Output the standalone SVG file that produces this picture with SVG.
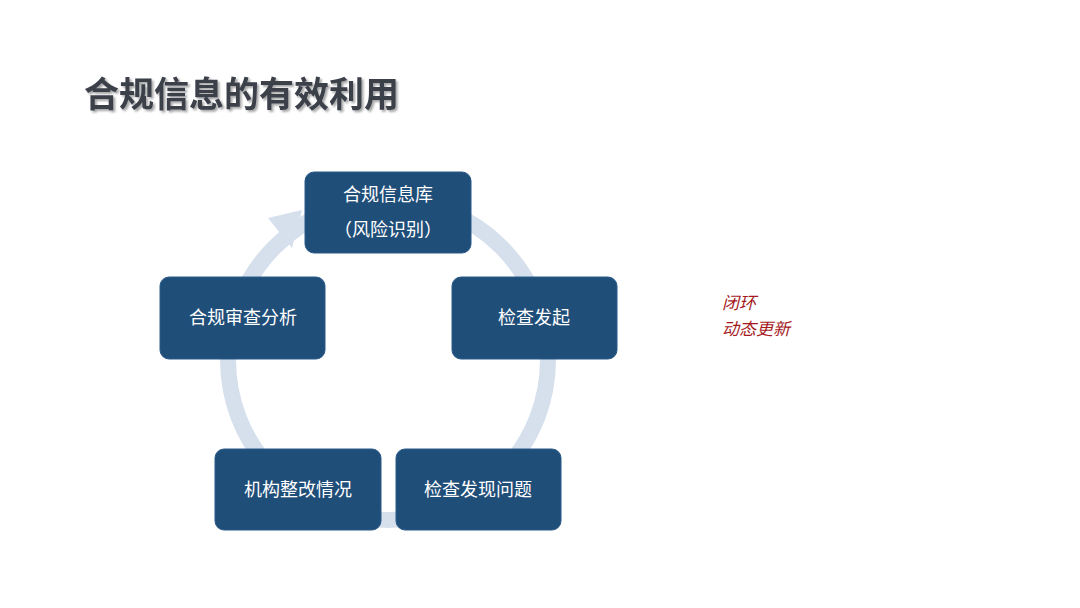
<svg xmlns="http://www.w3.org/2000/svg" width="1080" height="608" viewBox="0 0 1080 608">
<defs>
<style>
.n{fill:#1f4e79;stroke:#2a5a8a;stroke-width:1}
.t{font-family:"Liberation Sans","Noto Sans CJK SC",sans-serif;font-size:18px;fill:#fff;text-anchor:middle}
.r{font-family:"Liberation Sans","Noto Sans CJK SC",sans-serif;font-size:17px;fill:#a3191c;font-style:italic}
</style>
<filter id="sh" x="-5%" y="-20%" width="110%" height="140%"><feDropShadow dx="2" dy="2" stdDeviation="1.2" flood-color="#000" flood-opacity="0.35"/></filter>
</defs>
<rect width="1080" height="608" fill="#fff"/>
<text x="84" y="107" font-family="'Noto Sans CJK SC',sans-serif" font-size="35" font-weight="bold" fill="#3a3f4a" filter="url(#sh)">合规信息的有效利用</text>
<g id="connectors">
<circle cx="388" cy="360" r="160" fill="none" stroke="#d6dfec" stroke-width="16"/>
<polygon points="302,210 268,218 292,248" fill="#d6dfec"/>
</g>
<g id="n1"><rect class="n" x="305" y="172" width="166" height="81" rx="9"/><text class="t" x="388" y="201">合规信息库</text><text class="t" x="388" y="236">（风险识别）</text></g>
<g id="n2"><rect class="n" x="452" y="277" width="165" height="82" rx="9"/><text class="t" x="534" y="324">检查发起</text></g>
<g id="n3"><rect class="n" x="396" y="449" width="165" height="81" rx="9"/><text class="t" x="478" y="496">检查发现问题</text></g>
<g id="n4"><rect class="n" x="215" y="449" width="166" height="81" rx="9"/><text class="t" x="298" y="496">机构整改情况</text></g>
<g id="n5"><rect class="n" x="160" y="277" width="165" height="82" rx="9"/><text class="t" x="243" y="324">合规审查分析</text></g>
<text class="r" x="722" y="309">闭环</text>
<text class="r" x="722" y="335">动态更新</text>
</svg>
